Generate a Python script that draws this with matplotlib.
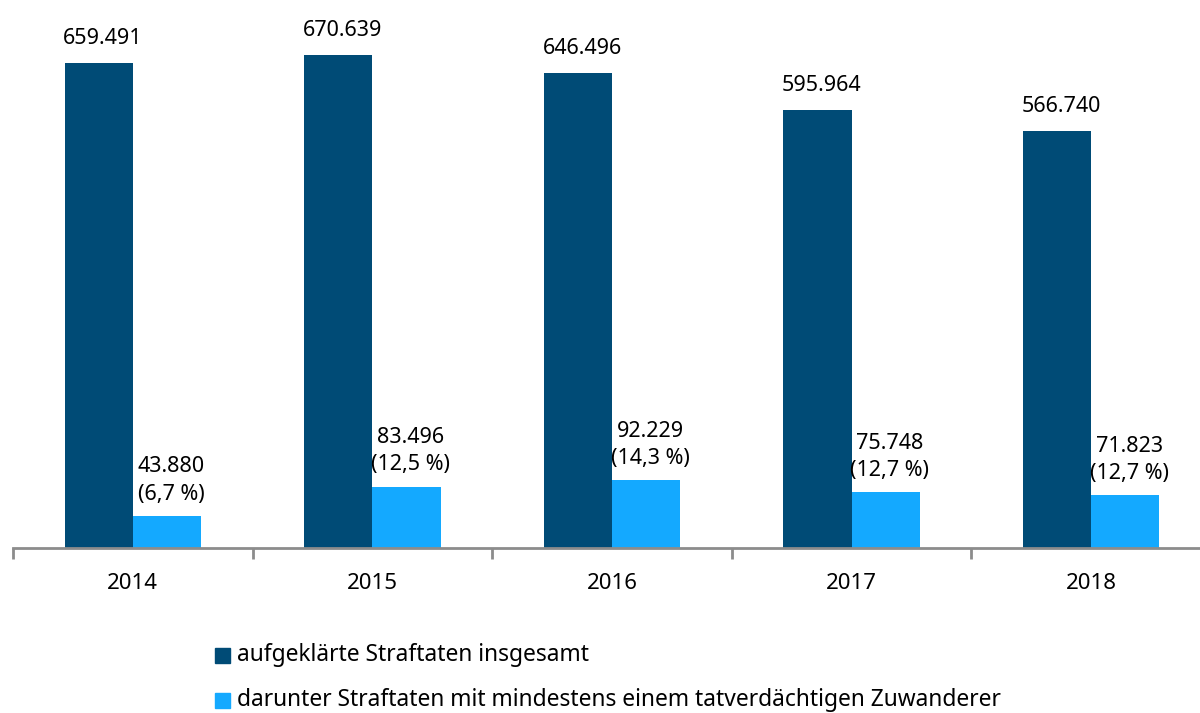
import matplotlib.pyplot as plt
import numpy as np

# ============================================================
# DATA
# ============================================================

years = ["2014", "2015", "2016", "2017", "2018"]

total_cleared = [659491, 670639, 646496, 595964, 566740]
with_immigrants = [43880, 83496, 92229, 75748, 71823]
share_labels = ["6,7 %", "12,5 %", "14,3 %", "12,7 %", "12,7 %"]

legend_labels = [
    "aufgeklärte Straftaten insgesamt",
    "darunter Straftaten mit mindestens einem tatverdächtigen Zuwanderer",
]

DARK = "#004b76"
LIGHT = "#14a9ff"
AXIS_GREY = "#8c8c8c"


def de_number(value):
    return f"{value:,}".replace(",", ".")


# ============================================================
# FIGURE
# ============================================================

plt.rcParams["font.family"] = ["Noto Sans", "DejaVu Sans"]

fig = plt.figure(figsize=(12, 7.13), dpi=100)

ax = fig.add_axes([13 / 1200, 165 / 713, 5 * 239.6 / 1200, 548 / 713])

x = np.arange(len(years))
width = 0.285

dark_bars = ax.bar(x - width / 2, total_cleared, width, color=DARK)
light_bars = ax.bar(x + width / 2, with_immigrants, width, color=LIGHT)

# ------------------------------------------------------------
# VALUE LABELS
# ------------------------------------------------------------
for bar, value in zip(dark_bars, total_cleared):
    ax.annotate(
        de_number(value),
        (bar.get_x() + bar.get_width() / 2, bar.get_height()),
        xytext=(3, 10),
        textcoords="offset points",
        ha="center",
        va="bottom",
        fontsize=15.5,
    )

for bar, value, share in zip(light_bars, with_immigrants, share_labels):
    ax.annotate(
        f"{de_number(value)}\n({share})",
        (bar.get_x() + bar.get_width() / 2, bar.get_height()),
        xytext=(3, 8),
        textcoords="offset points",
        ha="center",
        va="bottom",
        fontsize=15.5,
        linespacing=1.4,
    )

# ------------------------------------------------------------
# AXES
# ------------------------------------------------------------
ax.set_xlim(-0.5, len(years) - 0.5)
ax.set_ylim(0, 548 * 659491 / 485)

for side in ["top", "right", "left"]:
    ax.spines[side].set_visible(False)

ax.spines["bottom"].set_color(AXIS_GREY)
ax.spines["bottom"].set_linewidth(2)

ax.set_yticks([])

ax.set_xticks(np.arange(len(years) + 1) - 0.5)
ax.set_xticklabels([])
ax.tick_params(axis="x", which="major", length=8, width=2, color=AXIS_GREY)

ax.set_xticks(x, minor=True)
ax.set_xticklabels(years, minor=True, fontsize=16)
ax.tick_params(axis="x", which="minor", length=0, pad=18)

# ------------------------------------------------------------
# LEGEND
# ------------------------------------------------------------
for i, (label, color) in enumerate(zip(legend_labels, [DARK, LIGHT])):
    y = 1 - (655 + i * 45) / 713
    fig.patches.append(
        plt.Rectangle(
            (215 / 1200, y - 7.5 / 713),
            15 / 1200,
            15 / 713,
            transform=fig.transFigure,
            color=color,
        )
    )
    fig.text(237 / 1200, y, label, fontsize=16.4, va="center", ha="left")

fig.savefig("out.png", dpi=100)
